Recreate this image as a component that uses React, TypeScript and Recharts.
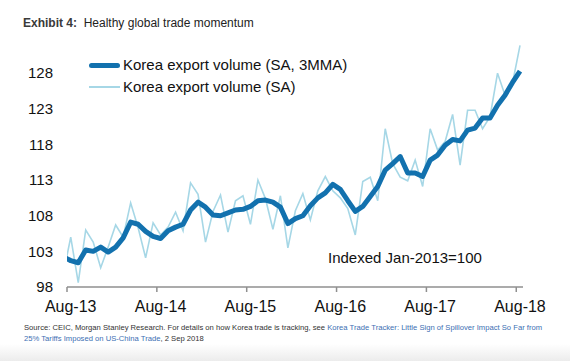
import { Line, LineChart, XAxis, YAxis } from "recharts";

const FONT = '"Liberation Sans", Arial, Helvetica, sans-serif';

// Jul-13 is only there so the line enters the plot at the left edge (it is clipped)
const MONTHS = [
  "Jul-13", "Aug-13", "Sep-13", "Oct-13", "Nov-13", "Dec-13",
  "Jan-14", "Feb-14", "Mar-14", "Apr-14", "May-14", "Jun-14", "Jul-14", "Aug-14", "Sep-14", "Oct-14", "Nov-14", "Dec-14",
  "Jan-15", "Feb-15", "Mar-15", "Apr-15", "May-15", "Jun-15", "Jul-15", "Aug-15", "Sep-15", "Oct-15", "Nov-15", "Dec-15",
  "Jan-16", "Feb-16", "Mar-16", "Apr-16", "May-16", "Jun-16", "Jul-16", "Aug-16", "Sep-16", "Oct-16", "Nov-16", "Dec-16",
  "Jan-17", "Feb-17", "Mar-17", "Apr-17", "May-17", "Jun-17", "Jul-17", "Aug-17", "Sep-17", "Oct-17", "Nov-17", "Dec-17",
  "Jan-18", "Feb-18", "Mar-18", "Apr-18", "May-18", "Jun-18", "Jul-18", "Aug-18",
];

const SA_3MMA = [
  102.2, 101.7, 101.4, 103.2, 103.0, 103.6, 102.9, 103.6, 104.9, 107.1, 106.8, 105.8,
  105.1, 104.8, 105.9, 106.4, 106.8, 108.8, 109.9, 109.2, 108.1, 108.0, 108.4, 108.8,
  108.9, 109.3, 110.1, 110.2, 109.9, 109.2, 106.9, 107.6, 108.0, 109.4, 110.5, 111.2,
  112.4, 111.7, 110.1, 108.6, 109.3, 110.7, 112.1, 114.4, 115.3, 116.3, 114.0, 114.0,
  113.5, 115.8, 116.5, 117.9, 118.7, 118.5, 120.0, 120.3, 121.7, 121.7, 123.5, 124.9,
  126.7, 128.3,
];

const SA = [
  99.8, 105.0, 98.6, 106.0, 104.3, 100.7, 103.6, 106.7, 105.0, 109.8, 106.3, 102.1,
  107.0, 105.3, 106.4, 108.5, 105.9, 112.6, 111.0, 104.3, 108.6, 110.9, 105.7, 110.1,
  110.8, 106.8, 113.0, 110.4, 106.1, 110.8, 103.5, 108.7, 111.1, 107.4, 111.5, 113.5,
  111.5, 110.5, 109.0, 105.3, 112.8, 113.4, 110.1, 120.2, 115.3, 113.4, 112.9, 115.8,
  112.1, 120.2, 117.2, 118.4, 122.2, 115.1, 122.8, 122.8, 120.2, 121.9, 128.0, 124.9,
  126.6, 131.9,
];

const X_LABELS = ["Aug-13", "Aug-14", "Aug-15", "Aug-16", "Aug-17", "Aug-18"];
const Y_TICKS = [98, 103, 108, 113, 118, 123, 128];

const DARK = "#1271ae";
const LIGHT = "#a6d7e6";

const data = MONTHS.map((m, i) => ({ t: i - 1, month: m, ma: SA_3MMA[i], sa: SA[i] }));
// tick marks sit half a month before each August
const xTicks = X_LABELS.map((l) => MONTHS.indexOf(l) - 1.5);

const XTick = ({ x, y, payload }: any) => (
  <text x={x + 3.7} y={y + 12} textAnchor="middle" fontSize={16} fill="#111" fontFamily={FONT}>
    {MONTHS[payload.value + 1.5]}
  </text>
);

export default function App() {
  return (
    <div
      style={{
        position: "absolute",
        left: 0,
        top: 0,
        width: 570,
        height: 361,
        background: "#fff",
        fontFamily: FONT,
        overflow: "hidden",
      }}
    >
      <div style={{ position: "absolute", left: 23, top: 16, fontSize: 12, lineHeight: "14px", color: "#222", whiteSpace: "nowrap" }}>
        <b style={{ color: "#3a3a3a" }}>Exhibit 4:</b>&nbsp; Healthy global trade momentum
      </div>

      <div style={{ position: "absolute", left: 0, top: 0 }}>
        <LineChart width={570} height={320} data={data} margin={{ top: 37.5, right: 47, bottom: 3, left: 0 }}>
          <XAxis
            dataKey="t"
            type="number"
            domain={[-0.5, 60.4]}
            allowDataOverflow
            ticks={xTicks}
            interval={0}
            tick={<XTick />}
            tickSize={5}
            tickMargin={8}
            height={30}
            axisLine={{ stroke: "#8f8f8f", strokeWidth: 1.5 }}
            tickLine={{ stroke: "#8f8f8f", strokeWidth: 1.5 }}
          />
          <YAxis
            type="number"
            domain={[98, 133]}
            ticks={Y_TICKS}
            interval={0}
            width={67}
            axisLine={false}
            tickLine={false}
            tickSize={0}
            tickMargin={14}
            tick={{ fontSize: 15, fill: "#111", fontFamily: FONT }}
          />
          <Line type="linear" dataKey="sa" stroke={LIGHT} strokeWidth={1.6} dot={false} isAnimationActive={false} />
          <Line
            type="linear"
            dataKey="ma"
            stroke={DARK}
            strokeWidth={5}
            strokeLinejoin="round"
            dot={false}
            isAnimationActive={false}
          />
        </LineChart>
      </div>

      {/* legend */}
      <div style={{ position: "absolute", left: 89, top: 62.5, width: 31, height: 5, borderRadius: 2.5, background: DARK }} />
      <div style={{ position: "absolute", left: 123, top: 55, fontSize: 15, lineHeight: "20px", color: "#111", whiteSpace: "nowrap" }}>
        Korea export volume (SA, 3MMA)
      </div>
      <div style={{ position: "absolute", left: 89, top: 86.2, width: 31, height: 1.6, background: LIGHT }} />
      <div style={{ position: "absolute", left: 123, top: 77, fontSize: 15, lineHeight: "20px", color: "#111", whiteSpace: "nowrap" }}>
        Korea export volume (SA)
      </div>

      <div style={{ position: "absolute", left: 328, top: 248, fontSize: 15, lineHeight: "20px", color: "#111", whiteSpace: "nowrap" }}>
        Indexed Jan-2013=100
      </div>

      <div style={{ position: "absolute", left: 24, top: 322, fontSize: 7.65, lineHeight: "11px", color: "#333", whiteSpace: "nowrap" }}>
        Source: CEIC, Morgan Stanley Research. For details on how Korea trade is tracking, see{" "}
        <span style={{ color: "#3d6fb3" }}>Korea Trade Tracker: Little Sign of Spillover Impact So Far from</span>
        <br />
        <span style={{ color: "#3d6fb3" }}>25% Tariffs Imposed on US-China Trade</span>, 2 Sep 2018
      </div>

      <div
        style={{
          position: "absolute",
          left: 0,
          top: 344,
          width: 570,
          height: 17,
          background: "linear-gradient(#ffffff, #ececec)",
        }}
      />
    </div>
  );
}
